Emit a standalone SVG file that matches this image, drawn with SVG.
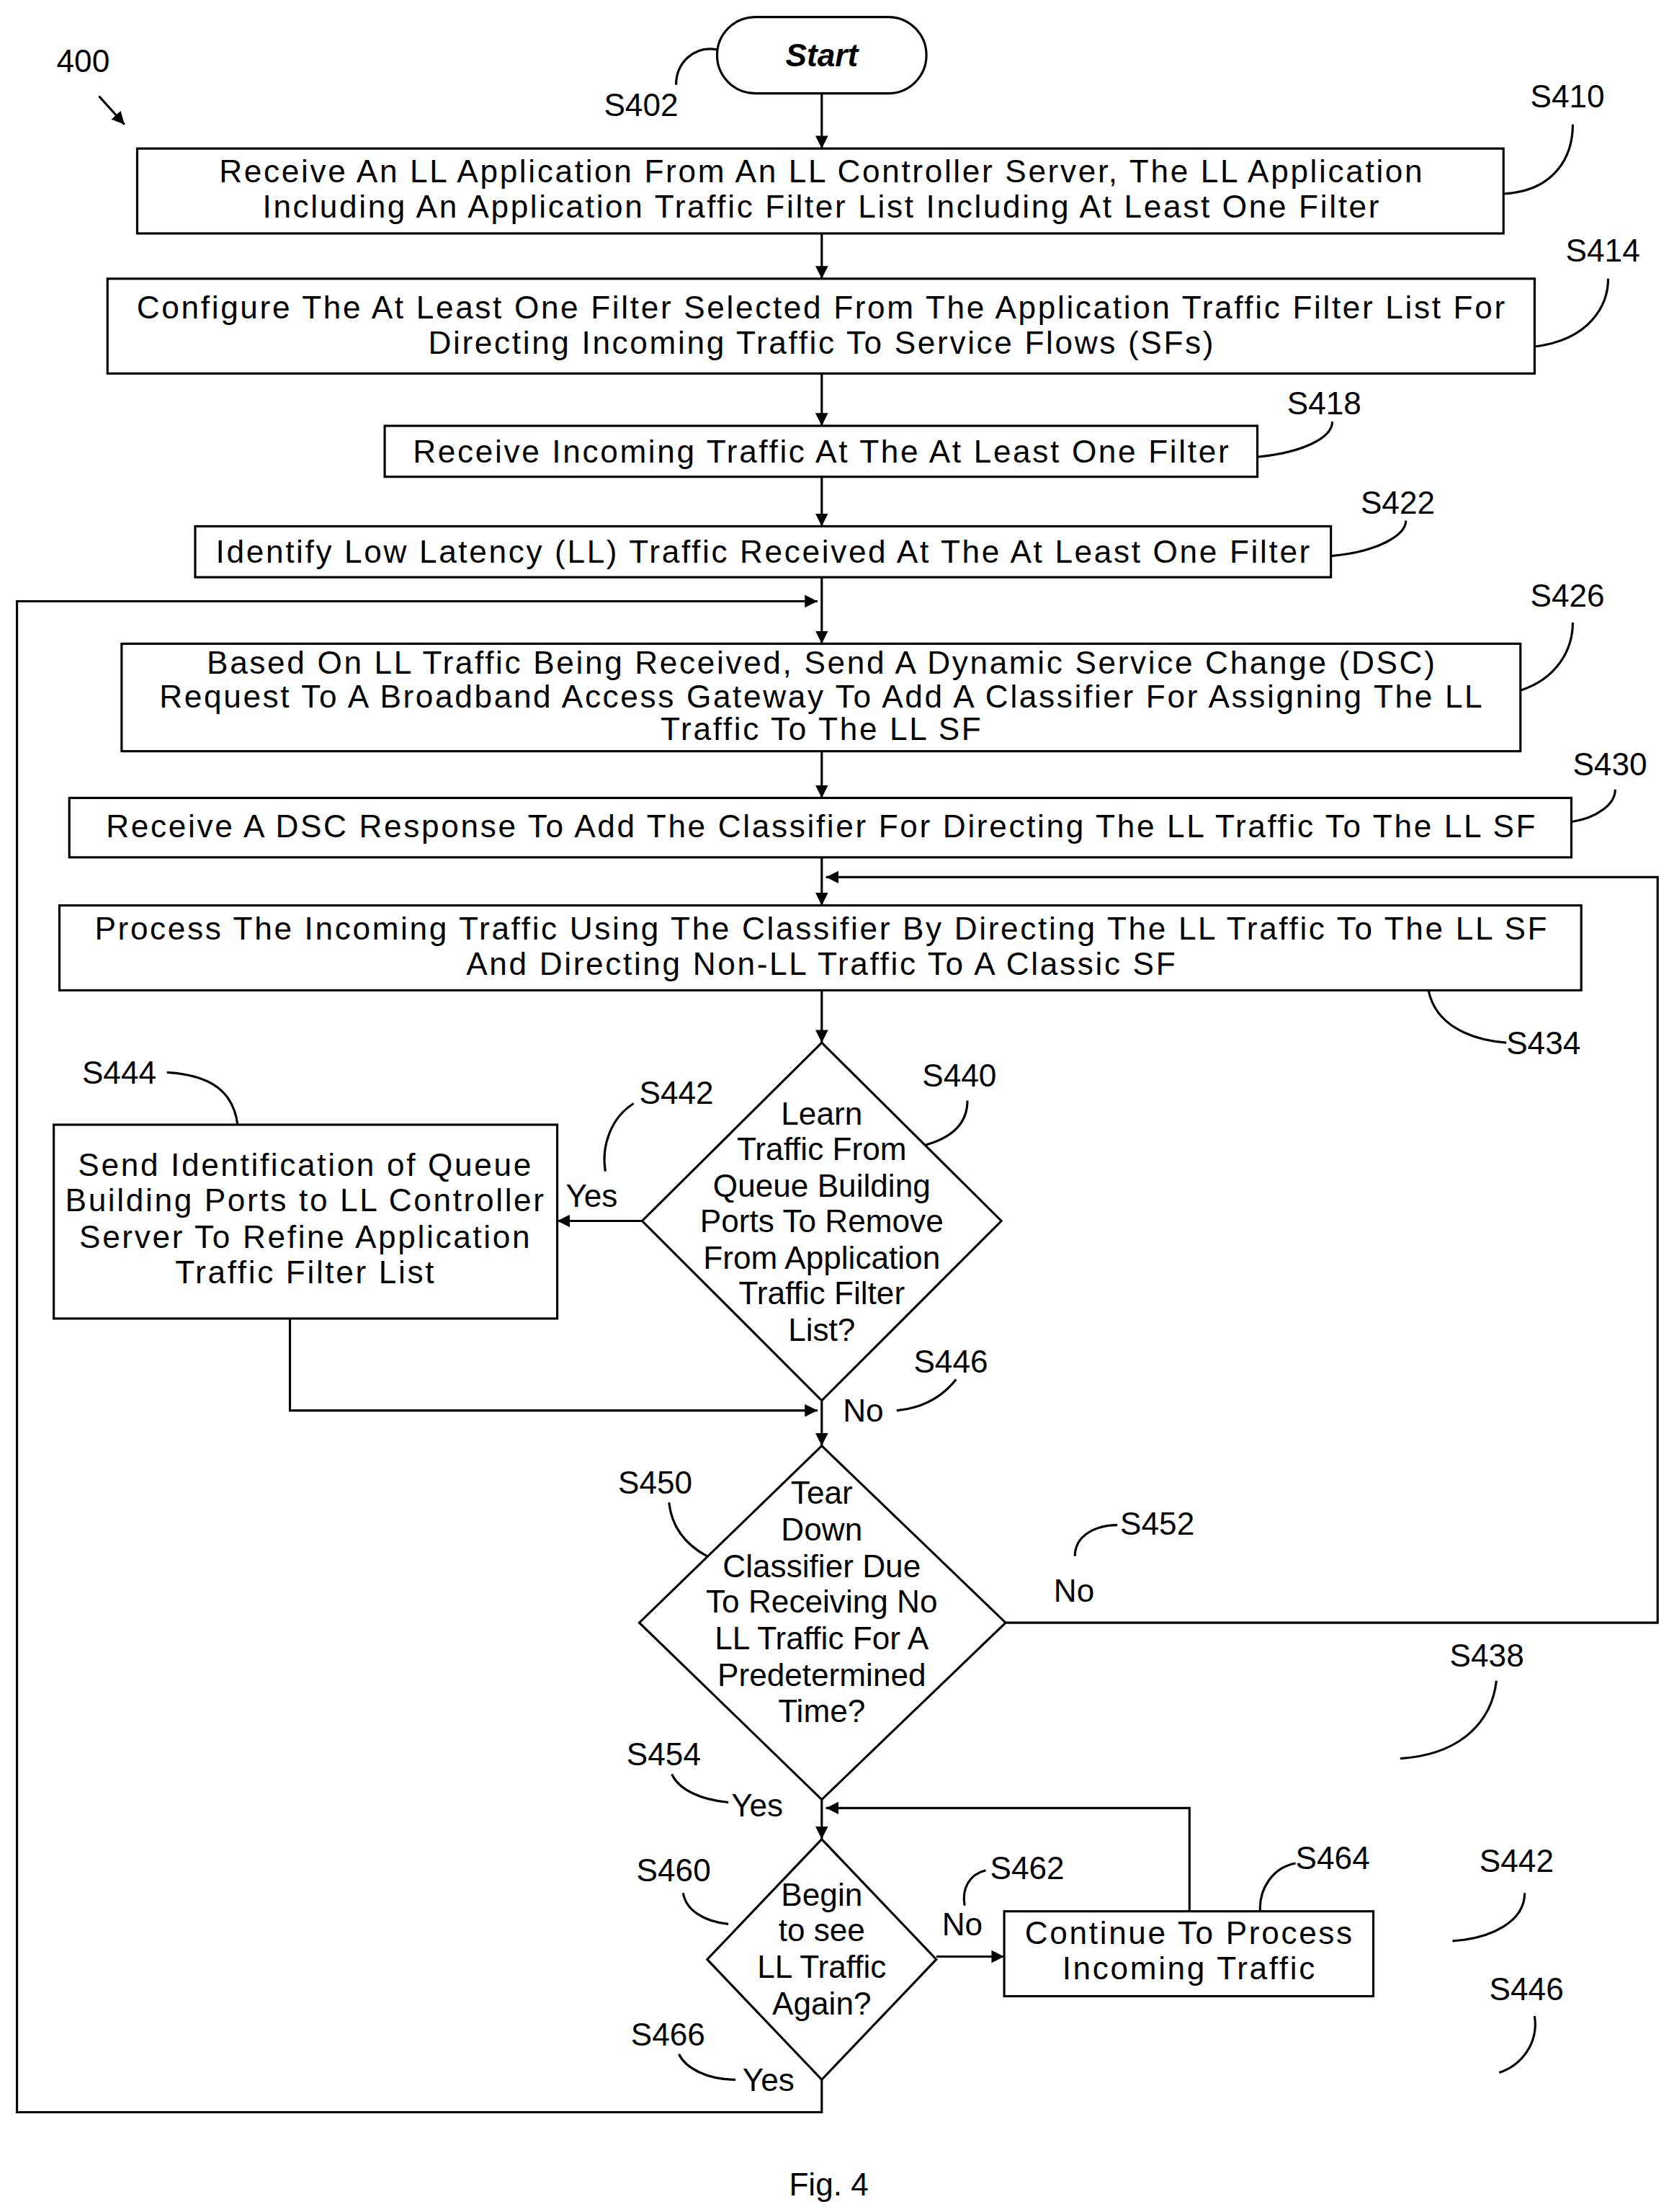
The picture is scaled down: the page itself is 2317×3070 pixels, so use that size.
<svg xmlns="http://www.w3.org/2000/svg" width="2317" height="3070" viewBox="0 0 2317 3070">
<defs>
<marker id="ah" viewBox="0 0 10 10" refX="10" refY="5" markerWidth="9" markerHeight="9" markerUnits="userSpaceOnUse" orient="auto"><path d="M0,0 L10,5 L0,10 z" fill="#000"/></marker>
<style>
.b{fill:#fff;stroke:#000;stroke-width:1.6}
.c{fill:none;stroke:#000;stroke-width:1.6}
.l{fill:none;stroke:#000;stroke-width:1.6;marker-end:url(#ah)}
text{font-family:"Liberation Sans",Arial,sans-serif;font-size:22.5px;fill:#000}
.m{text-anchor:middle}
.w text{letter-spacing:1.35px}
</style>
</defs>
<rect width="2317" height="3070" fill="#fff"/>
<g transform="scale(1.9635)">
<g id="start"><rect class="b" x="507" y="12" width="148" height="54" rx="27"/><text class="m" x="581" y="47" font-weight="bold" font-style="italic">Start</text></g>
<g id="labels">
<text x="427" y="82">S402</text><path class="c" d="M507,35 C490,32 478,45 478,60"/>
<text x="40" y="51">400</text><path class="l" d="M70,68 L88,88"/>
<text x="1082" y="76">S410</text><path class="c" d="M1063,137 C1100,135 1112,110 1112,88"/>
<text x="1107" y="185">S414</text><path class="c" d="M1085,245 C1125,240 1137,215 1137,197"/>
<text x="910" y="293">S418</text><path class="c" d="M889,323 C920,320 942,310 942,298"/>
<text x="962" y="363">S422</text><path class="c" d="M941,393 C975,390 994,378 994,368"/>
<text x="1082" y="429">S426</text><path class="c" d="M1075,488 C1100,480 1112,460 1112,440"/>
<text x="1112" y="548">S430</text><path class="c" d="M1111,581 C1130,578 1142,568 1142,558"/>
<text x="1065" y="745">S434</text><path class="c" d="M1010,700 C1015,725 1040,735 1065,737"/>
<text x="652" y="768">S440</text><path class="c" d="M652,810 C672,805 684,795 684,778"/>
<text x="452" y="780">S442</text><path class="c" d="M448,780 C432,790 425,810 428,828"/>
<text x="58" y="766">S444</text><path class="c" d="M118,758 C150,760 165,772 168,795"/>
<text x="646" y="970">S446</text><path class="c" d="M634,997 C655,995 668,985 676,975"/>
<text x="437" y="1056">S450</text><path class="c" d="M473,1062 C475,1080 485,1092 500,1100"/>
<text x="792" y="1085">S452</text><path class="c" d="M760,1100 C760,1085 775,1078 790,1078"/>
<text x="1025" y="1178">S438</text><path class="c" d="M1058,1188 C1055,1215 1035,1240 990,1243"/>
<text x="443" y="1248">S454</text><path class="c" d="M475,1254 C480,1265 495,1272 515,1274"/>
<text x="450" y="1330">S460</text><path class="c" d="M483,1338 C485,1350 497,1358 515,1360"/>
<text x="700" y="1328">S462</text><path class="c" d="M697,1322 C685,1325 680,1335 682,1347"/>
<text x="916" y="1321">S464</text><path class="c" d="M891,1351 C890,1335 900,1320 916,1317"/>
<text x="1046" y="1323">S442</text><path class="c" d="M1078,1338 C1078,1358 1055,1370 1027,1372"/>
<text x="1053" y="1414">S446</text><path class="c" d="M1085,1425 C1088,1445 1075,1460 1060,1465"/>
<text x="446" y="1446">S466</text><path class="c" d="M480,1452 C485,1462 500,1470 520,1470"/>
</g>
<g id="connectors">
<path class="l" d="M581,66 V105"/>
<path class="l" d="M581,165 V197"/>
<path class="l" d="M581,264 V301"/>
<path class="l" d="M581,337 V372"/>
<path class="l" d="M581,408 V455"/>
<path class="l" d="M581,531 V564"/>
<path class="l" d="M581,606 V640"/>
<path class="l" d="M581,700 V737"/>
<path class="l" d="M454,863 H394"/>
<path class="l" d="M205,932 V997 H578"/>
<path class="l" d="M581,990 V1022"/>
<path class="l" d="M711,1147 H1172 V620 H584"/>
<path class="l" d="M581,1272 V1300"/>
<path class="l" d="M841,1351 V1278 H584"/>
<path class="l" d="M662,1383 H710"/>
<path class="l" d="M581,1470 V1493 H12 V425 H578"/>
</g>
<g id="s410" class="w"><rect class="b" x="97" y="105" width="966" height="60"/><text class="m" x="581" y="129">Receive An LL Application From An LL Controller Server, The LL Application</text><text class="m" x="581" y="154">Including An Application Traffic Filter List Including At Least One Filter</text></g>
<g id="s414" class="w"><rect class="b" x="76" y="197" width="1009" height="67"/><text class="m" x="581" y="225">Configure The At Least One Filter Selected From The Application Traffic Filter List For</text><text class="m" x="581" y="250">Directing Incoming Traffic To Service Flows (SFs)</text></g>
<g id="s418" class="w"><rect class="b" x="272" y="301" width="617" height="36"/><text class="m" x="581" y="327">Receive Incoming Traffic At The At Least One Filter</text></g>
<g id="s422" class="w"><rect class="b" x="138" y="372" width="803" height="36"/><text class="m" x="540" y="398">Identify Low Latency (LL) Traffic Received At The At Least One Filter</text></g>
<g id="s426" class="w"><rect class="b" x="86" y="455" width="989" height="76"/><text class="m" x="581" y="476">Based On LL Traffic Being Received, Send A Dynamic Service Change (DSC)</text><text class="m" x="581" y="500">Request To A Broadband Access Gateway To Add A Classifier For Assigning The LL</text><text class="m" x="581" y="523">Traffic To The LL SF</text></g>
<g id="s430" class="w"><rect class="b" x="49" y="564" width="1062" height="42"/><text class="m" x="581" y="592">Receive A DSC Response To Add The Classifier For Directing The LL Traffic To The LL SF</text></g>
<g id="s434" class="w"><rect class="b" x="42" y="640" width="1076" height="60"/><text class="m" x="581" y="664">Process The Incoming Traffic Using The Classifier By Directing The LL Traffic To The LL SF</text><text class="m" x="581" y="689">And Directing Non-LL Traffic To A Classic SF</text></g>
<g id="s440"><path class="b" d="M581,737 L708,863 L581,990 L454,863 Z"/><text class="m" x="581" y="795">Learn</text><text class="m" x="581" y="820">Traffic From</text><text class="m" x="581" y="846">Queue Building</text><text class="m" x="581" y="871">Ports To Remove</text><text class="m" x="581" y="897">From Application</text><text class="m" x="581" y="922">Traffic Filter</text><text class="m" x="581" y="948">List?</text><text x="400" y="853">Yes</text><text x="596" y="1005">No</text></g>
<g id="s444" class="w"><rect class="b" x="38" y="795" width="356" height="137"/><text class="m" x="216" y="831">Send Identification of Queue</text><text class="m" x="216" y="856">Building Ports to LL Controller</text><text class="m" x="216" y="882">Server To Refine Application</text><text class="m" x="216" y="907">Traffic Filter List</text></g>
<g id="s450"><path class="b" d="M581,1022 L711,1147 L581,1272 L452,1147 Z"/><text class="m" x="581" y="1063">Tear</text><text class="m" x="581" y="1089">Down</text><text class="m" x="581" y="1115">Classifier Due</text><text class="m" x="581" y="1140">To Receiving No</text><text class="m" x="581" y="1166">LL Traffic For A</text><text class="m" x="581" y="1192">Predetermined</text><text class="m" x="581" y="1217">Time?</text><text x="745" y="1132">No</text><text x="517" y="1284">Yes</text></g>
<g id="s460"><path class="b" d="M581,1300 L662,1385 L581,1470 L500,1385 Z"/><text class="m" x="581" y="1347">Begin</text><text class="m" x="581" y="1372">to see</text><text class="m" x="581" y="1398">LL Traffic</text><text class="m" x="581" y="1424">Again?</text><text x="666" y="1368">No</text><text x="525" y="1478">Yes</text></g>
<g id="s464" class="w"><rect class="b" x="710" y="1351" width="261" height="60"/><text class="m" x="841" y="1374">Continue To Process</text><text class="m" x="841" y="1399">Incoming Traffic</text></g>
<text class="m" x="586" y="1552">Fig. 4</text>
</g>
</svg>
